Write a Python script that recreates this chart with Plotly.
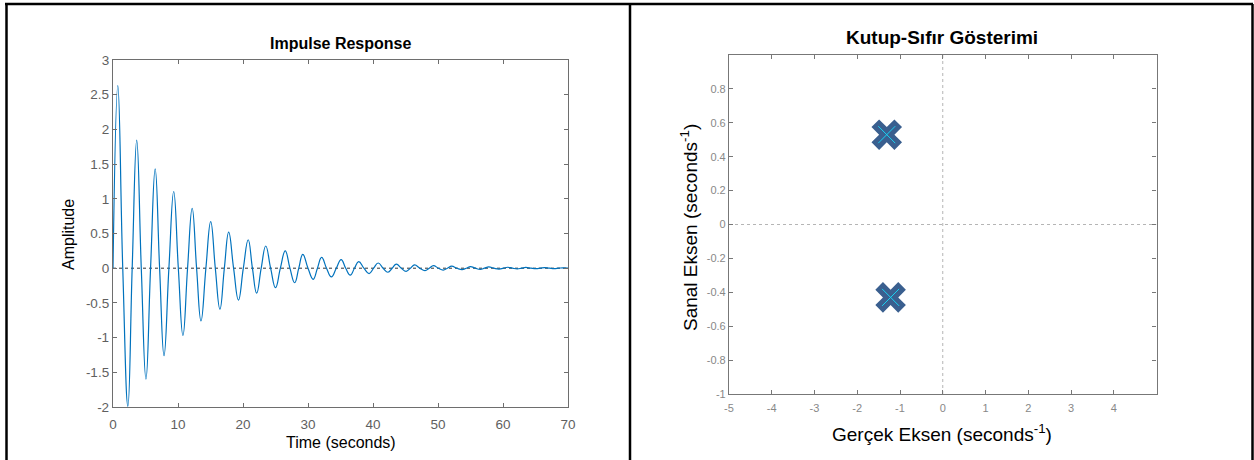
import plotly.graph_objects as go

# Impulse response: time / amplitude of the local maxima, minima and zero crossings
peak_t = [0.74, 3.65, 6.49, 9.34, 12.18, 15.03, 17.8, 20.8, 23.5, 26.5, 29.2, 32.1,
          35.1, 37.8, 40.8, 43.6, 46.4, 49.3, 52.1, 55.0, 57.8, 60.7, 63.5, 66.4, 69.2]
peak_amp = [2.63, 1.845, 1.43, 1.105, 0.864, 0.672, 0.52, 0.41, 0.32, 0.25, 0.20, 0.155,
            0.125, 0.096, 0.075, 0.06, 0.047, 0.037, 0.029, 0.023, 0.018, 0.014, 0.011, 0.008, 0.006]
trough_t = [2.29, 5.07, 7.85, 10.76, 13.54, 16.45, 19.3, 22.1, 25.0, 27.95, 30.8, 33.6,
            36.5, 39.4, 42.3, 45.1, 48.0, 50.8, 53.7, 56.5, 59.4, 62.2, 65.1, 67.9]
trough_amp = [-1.99, -1.60, -1.26, -0.97, -0.76, -0.59, -0.46, -0.36, -0.28, -0.21, -0.16, -0.125,
              -0.10, -0.077, -0.058, -0.045, -0.035, -0.027, -0.021, -0.016, -0.012, -0.01, -0.007, -0.006]
zero_t = [0.0, 1.5, 2.95, 4.35, 5.78, 7.17, 8.6, 10.05, 11.47, 12.86, 14.29, 15.74, 17.13,
          18.55, 20.05, 21.45, 22.8, 24.25, 25.75, 27.22, 28.58, 30.0, 31.45, 32.85, 34.35,
          35.8, 37.15, 38.6, 40.1, 41.55, 42.95, 44.35, 45.75, 47.2, 48.65, 50.05, 51.45,
          52.9, 54.35, 55.75, 57.15, 58.6, 60.05, 61.45, 62.85, 64.3, 65.75, 67.15, 68.55, 70.0]

# Pole locations (real, imaginary)
pole_re = [-1.31, -1.22]
pole_im = [0.53, -0.43]

time_ticks = [0, 10, 20, 30, 40, 50, 60, 70]
amp_ticks = [-2, -1.5, -1, -0.5, 0, 0.5, 1, 1.5, 2, 2.5, 3]
amp_labels = ["-2", "-1.5", "-1", "-0.5", "0", "0.5", "1", "1.5", "2", "2.5", "3"]
re_ticks = [-5, -4, -3, -2, -1, 0, 1, 2, 3, 4]
re_labels = ["-5", "-4", "-3", "-2", "-1", "0", "1", "2", "3", "4"]
im_ticks = [-1, -0.8, -0.6, -0.4, -0.2, 0, 0.2, 0.4, 0.6, 0.8]
im_labels = ["-1", "-0.8", "-0.6", "-0.4", "-0.2", "0", "0.2", "0.4", "0.6", "0.8"]

pts = sorted(list(zip(peak_t, peak_amp)) + list(zip(trough_t, trough_amp)) +
             [(t, 0.0) for t in zero_t])
resp_t = [p[0] for p in pts]
resp_a = [p[1] for p in pts]

FONT = "Liberation Sans, Arial, Helvetica, sans-serif"
W, H = 1254, 460

fig = go.Figure()

# zero reference of the impulse response
fig.add_trace(go.Scatter(x=[time_ticks[0], time_ticks[-1]], y=[0, 0], mode="lines",
                         line=dict(color="#333333", width=1, dash="dot"),
                         xaxis="x", yaxis="y", hoverinfo="skip", showlegend=False))
fig.add_trace(go.Scatter(x=resp_t, y=resp_a, mode="lines",
                         line=dict(color="#0072BD", width=1.2, shape="spline", smoothing=1.3),
                         xaxis="x", yaxis="y", showlegend=False))

# dotted real / imaginary axes of the pole-zero map
fig.add_trace(go.Scatter(x=[-5, 5], y=[0, 0], mode="lines",
                         line=dict(color="#b5b5b5", width=1, dash="dot"),
                         xaxis="x2", yaxis="y2", hoverinfo="skip", showlegend=False))
fig.add_trace(go.Scatter(x=[0, 0], y=[-1, 1], mode="lines",
                         line=dict(color="#b5b5b5", width=1, dash="dot"),
                         xaxis="x2", yaxis="y2", hoverinfo="skip", showlegend=False))
fig.add_trace(go.Scatter(x=pole_re, y=pole_im, mode="markers",
                         marker=dict(symbol="x", size=27, color="#3A5F8F", line=dict(width=0)),
                         xaxis="x2", yaxis="y2", showlegend=False))
fig.add_trace(go.Scatter(x=pole_re, y=pole_im, mode="markers",
                         marker=dict(symbol="x-thin-open", size=17,
                                     line=dict(color="#5A8ED4", width=1)),
                         xaxis="x2", yaxis="y2", hoverinfo="skip", showlegend=False))

ax_common = dict(showgrid=False, zeroline=False, showline=True, mirror="ticks",
                 ticks="inside", ticklen=4, fixedrange=True, automargin=False)

fig.update_layout(
    width=W, height=H,
    margin=dict(l=0, r=0, t=0, b=0, pad=0, autoexpand=False),
    paper_bgcolor="white", plot_bgcolor="white",
    font=dict(family=FONT),
    xaxis=dict(domain=[113 / W, 568 / W], range=[0, 70], tickvals=time_ticks,
               linecolor="#6e6e6e", linewidth=1.3, tickcolor="#6e6e6e", ticklabelstandoff=5,
               tickfont=dict(size=13.5, color="#5f5f5f"), anchor="y", **ax_common),
    yaxis=dict(domain=[1 - 407 / H, 1 - 60 / H], range=[-2, 3], tickvals=amp_ticks,
               ticktext=amp_labels, linecolor="#6e6e6e", linewidth=1.3, tickcolor="#6e6e6e",
               tickfont=dict(size=13.5, color="#5f5f5f"), anchor="x", **ax_common),
    xaxis2=dict(domain=[729 / W, 1156.5 / W], range=[-5, 5], tickvals=re_ticks,
                ticktext=re_labels, linecolor="#777777", linewidth=1.2, tickcolor="#777777",
                ticklabelstandoff=4,
                tickfont=dict(size=11, color="#888888"), anchor="y2", **ax_common),
    yaxis2=dict(domain=[1 - 394 / H, 1 - 55 / H], range=[-1, 1], tickvals=im_ticks,
                ticktext=im_labels, linecolor="#777777", linewidth=1.2, tickcolor="#777777",
                tickfont=dict(size=11, color="#888888"), anchor="x2", **ax_common),
)

annots = [
    dict(text="<b>Impulse Response</b>", x=340.5 / W, y=1 - 43 / H, font=dict(size=16, color="black")),
    dict(text="Time (seconds)", x=340.5 / W, y=1 - 442 / H, font=dict(size=16, color="black")),
    dict(text="Amplitude", x=68 / W, y=1 - 235 / H, textangle=-90, font=dict(size=16, color="black")),
    dict(text="<b>Kutup-Sıfır Gösterimi</b>", x=942 / W, y=1 - 38 / H, font=dict(size=19, color="black")),
    dict(text="Gerçek Eksen (seconds<sup>-1</sup>)", x=942 / W, y=1 - 433 / H, font=dict(size=19, color="black")),
    dict(text="Sanal Eksen (seconds<sup>-1</sup>)", x=689 / W, y=1 - 228 / H, textangle=-90,
         font=dict(size=19, color="black")),
]
for a in annots:
    fig.add_annotation(xref="paper", yref="paper", showarrow=False,
                       xanchor="center", yanchor="middle", **a)

# black panel frame
frame = dict(type="line", xref="paper", yref="paper", line=dict(color="black", width=2.5))
fig.add_shape(x0=5 / W, x1=1253 / W, y0=1 - 4 / H, y1=1 - 4 / H, **frame)
fig.add_shape(x0=6.5 / W, x1=6.5 / W, y0=0, y1=1 - 4 / H, **frame)
fig.add_shape(x0=630 / W, x1=630 / W, y0=0, y1=1 - 4 / H, **frame)
fig.add_shape(x0=1252.5 / W, x1=1252.5 / W, y0=0, y1=1 - 4 / H, **frame)

fig.write_html("out.html", config={"displayModeBar": False})
